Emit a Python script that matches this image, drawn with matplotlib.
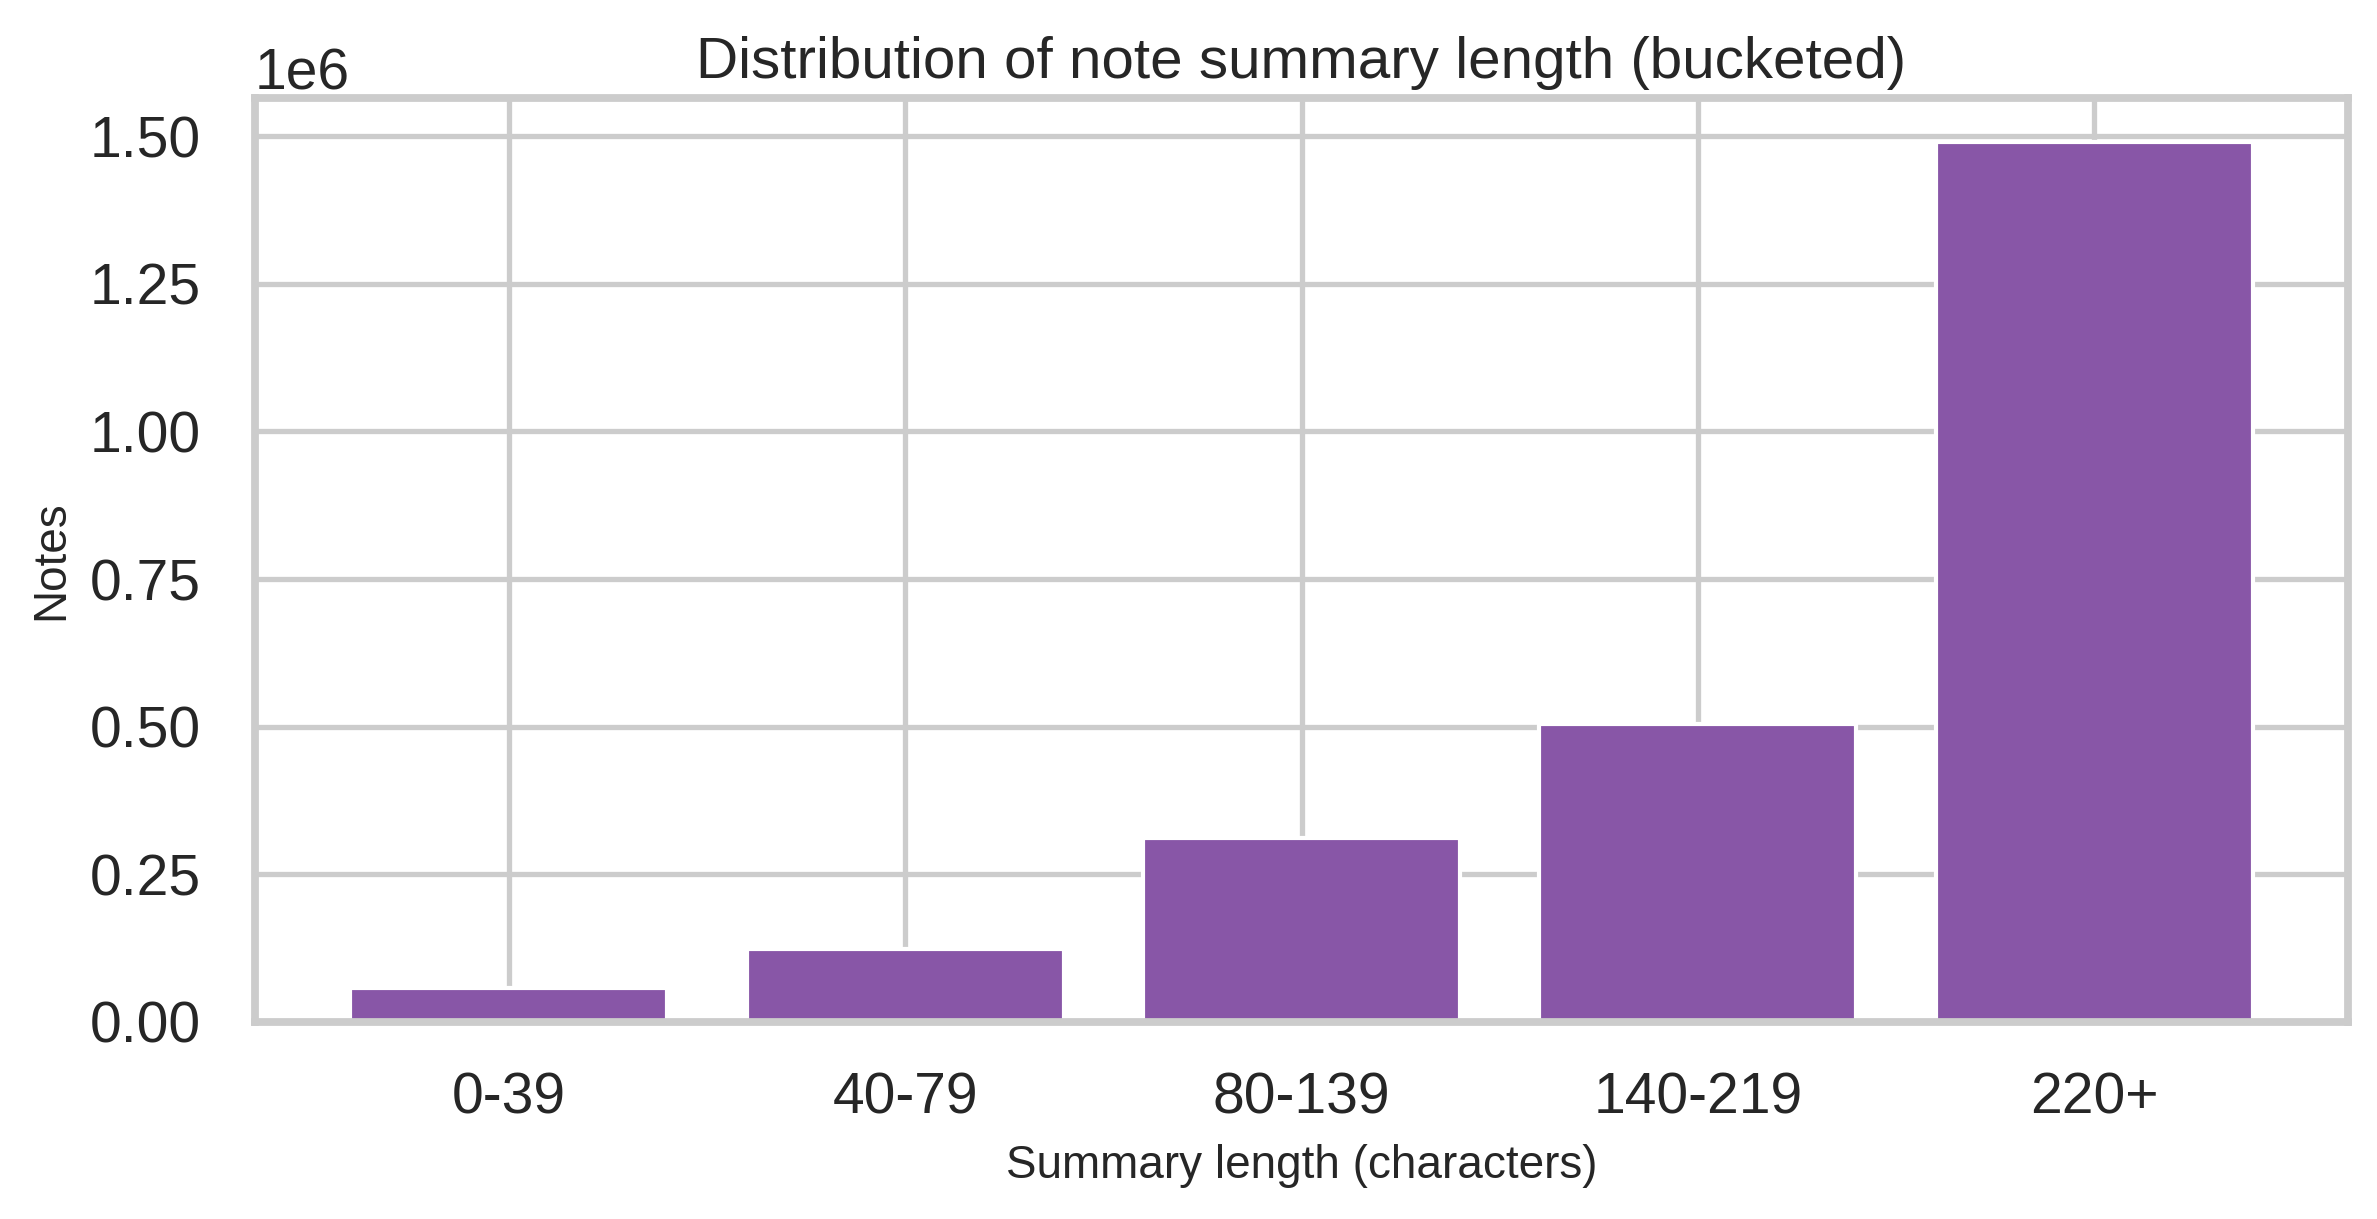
import matplotlib
matplotlib.use("Agg")
import matplotlib.pyplot as plt
from matplotlib.ticker import MultipleLocator
import seaborn as sns

# bucketed summary lengths and note counts
buckets = ["0-39", "40-79", "80-139", "140-219", "220+"]
note_counts = [57000, 123000, 311000, 504000, 1491000]

BAR_COLOR = "#8856a7"

sns.set_theme(style="whitegrid", context="talk")
plt.rcParams["font.family"] = ["Liberation Sans", "DejaVu Sans"]

fig, ax = plt.subplots(figsize=(11.885, 6.095), dpi=200)
fig.subplots_adjust(left=0.1073, right=0.9878, top=0.920, bottom=0.1617)

ax.bar(buckets, note_counts, width=0.8, color=BAR_COLOR,
       edgecolor="white", linewidth=1.5)

ax.set_title("Distribution of note summary length (bucketed)", fontsize=21, pad=7)
ax.set_xlabel("Summary length (characters)", fontsize=16.5, labelpad=6.5)
ax.set_ylabel("Notes", fontsize=16.5, labelpad=6)
ax.yaxis.set_major_locator(MultipleLocator(0.25e6))
ax.tick_params(axis="both", labelsize=20.5)
ax.tick_params(axis="x", pad=9)
ax.tick_params(axis="y", pad=10.5)
ax.yaxis.get_offset_text().set_fontsize(20.5)

for s in ax.spines.values():
    s.set_linewidth(2.8)
    s.set_color("#cccccc")
ax.grid(True, linewidth=1.9, color="#cccccc")
ax.set_axisbelow(True)

fig.savefig("out.png", dpi=200)
